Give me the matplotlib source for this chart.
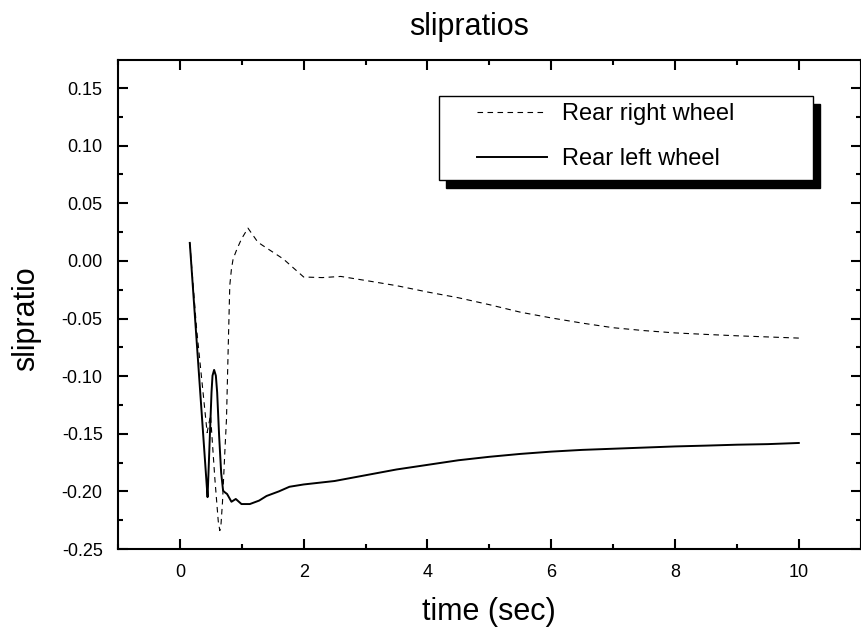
import matplotlib
matplotlib.use("Agg")
import matplotlib.pyplot as plt
from matplotlib.patches import Rectangle
from matplotlib.ticker import MultipleLocator, FormatStrFormatter

plt.rcParams['font.family'] = ['Liberation Sans', 'DejaVu Sans']
plt.rcParams['axes.unicode_minus'] = False

# Rear left wheel slip ratio
t_left = [0.16, 0.43, 0.447, 0.462, 0.484, 0.511, 0.527, 0.553, 0.581, 0.602,
          0.634, 0.667, 0.698, 0.726, 0.763, 0.833, 0.903, 0.995, 1.13, 1.28,
          1.40, 1.60, 1.77, 2.0, 2.5, 3.0, 3.5, 4.0, 4.5, 5.0,
          5.5, 6.0, 6.5, 7.0, 7.5, 8.0, 8.5, 9.0, 9.5, 10.0]
slip_left = [0.0156, -0.192, -0.205, -0.184, -0.152, -0.114, -0.0996, -0.0946, -0.0996, -0.114,
             -0.152, -0.184, -0.1994, -0.2008, -0.2023, -0.209, -0.2066, -0.211, -0.211, -0.208,
             -0.204, -0.200, -0.196, -0.194, -0.191, -0.186, -0.181, -0.177, -0.173, -0.170,
             -0.1675, -0.1655, -0.164, -0.163, -0.162, -0.161, -0.1603, -0.1595, -0.159, -0.158]

# Rear right wheel slip ratio
t_right = [0.16, 0.27, 0.44, 0.495, 0.565, 0.62, 0.645, 0.665, 0.688, 0.726,
           0.753, 0.779, 0.806, 0.833, 0.86, 0.92, 0.995, 1.10, 1.26, 1.34,
           1.67, 2.0, 2.3, 2.6, 3.0, 3.5, 4.0, 4.5, 5.0, 5.5,
           6.0, 6.5, 7.0, 7.5, 8.0, 8.5, 9.0, 9.5, 10.0]
slip_right = [0.0156, -0.059, -0.149, -0.134, -0.189, -0.226, -0.234, -0.228, -0.2095, -0.166,
              -0.137, -0.079, -0.0214, -0.007, 0.0017, 0.010, 0.019, 0.0284, 0.0162, 0.0133,
              0.0017, -0.014, -0.0145, -0.0135, -0.017, -0.0215, -0.027, -0.032, -0.038, -0.0445,
              -0.0495, -0.054, -0.058, -0.0605, -0.0625, -0.0638, -0.065, -0.066, -0.067]

series_labels = ["Rear right wheel", "Rear left wheel"]

W, H = 862, 631
fig = plt.figure(figsize=(W / 100, H / 100), dpi=100)
ax = fig.add_axes([118 / W, (H - 549) / H, 742.7 / W, 489 / H])

ax.plot(t_right, slip_right, color='black', lw=0.8, linestyle=(0, (5, 4)), label=series_labels[0])
ax.plot(t_left, slip_left, color='black', lw=1.4, label=series_labels[1])

ax.set_xlim(-1, 11)
ax.set_ylim(-0.25, 0.1743)
ax.xaxis.set_major_locator(MultipleLocator(2))
ax.xaxis.set_minor_locator(MultipleLocator(1))
ax.yaxis.set_major_locator(MultipleLocator(0.05))
ax.yaxis.set_minor_locator(MultipleLocator(0.025))
ax.yaxis.set_major_formatter(FormatStrFormatter('%.2f'))

for s in ax.spines.values():
    s.set_linewidth(1.5)
ax.tick_params(which='both', direction='in', top=True, right=True, width=1.5)
ax.tick_params(which='major', length=7)
ax.tick_params(which='minor', length=3.5)
ax.tick_params(axis='x', which='major', labelsize=13, pad=11)
ax.tick_params(axis='y', which='major', labelsize=13, pad=11)

ax.set_title("slipratios", fontsize=22, x=0.473, pad=18)
ax.set_xlabel("time (sec)", fontsize=22, labelpad=11)
ax.set_ylabel("slipratio", fontsize=22)
ax.yaxis.set_label_coords(-0.104, 0.47)

# legend box with a solid drop shadow
bx0, bx1 = 0.4322, 0.9358
by0, by1 = 0.7546, 0.9270
dx, dy = 7 / 742.7, 8 / 489
ax.add_patch(Rectangle((bx0 + dx, by0 - dy), bx1 - bx0, by1 - by0, transform=ax.transAxes,
                       facecolor='black', edgecolor='black', zorder=4))
ax.add_patch(Rectangle((bx0, by0), bx1 - bx0, by1 - by0, transform=ax.transAxes,
                       facecolor='white', edgecolor='black', lw=1.0, zorder=4.5))
leg = ax.legend(loc='upper left', bbox_to_anchor=(0.4827, 0.912), frameon=False,
                fontsize=17, borderpad=0, borderaxespad=0, handlelength=3.0,
                handletextpad=0.6, labelspacing=0.97)
leg.set_zorder(5)

fig.savefig("out.png", dpi=100)
